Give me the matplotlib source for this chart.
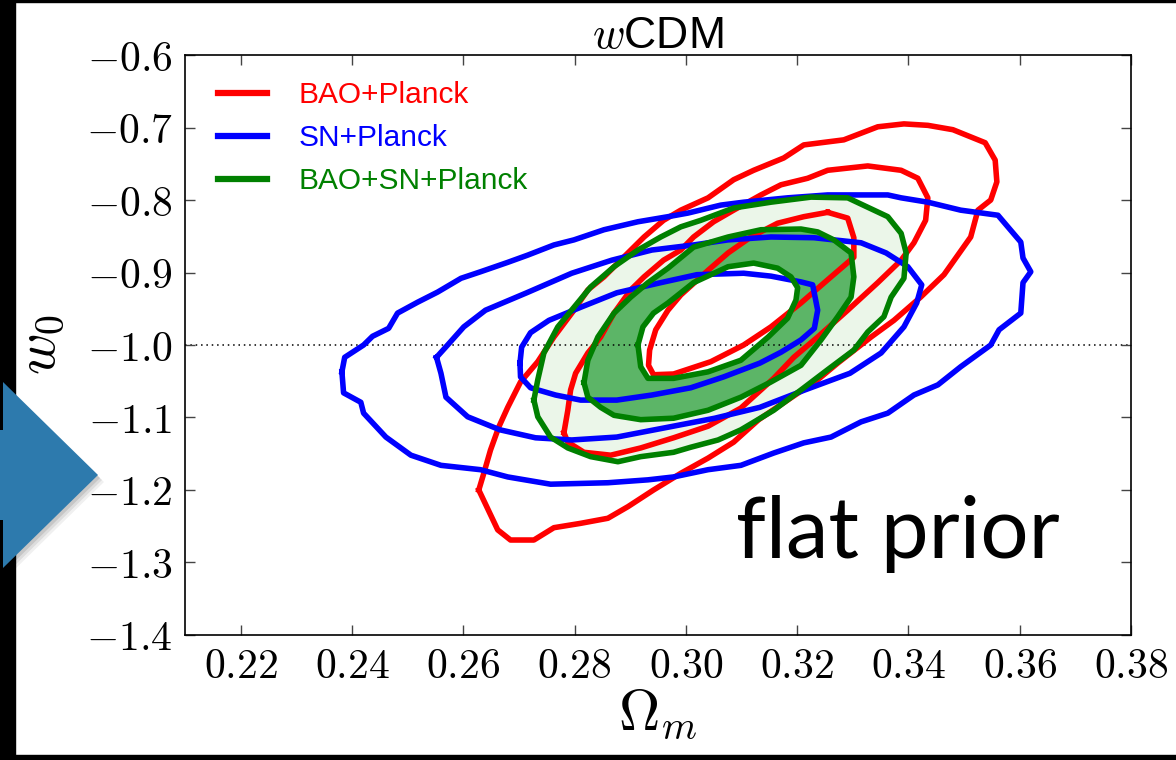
import matplotlib
matplotlib.use('Agg')
import numpy as np
import matplotlib.pyplot as plt
from matplotlib.patches import Polygon, Rectangle
from matplotlib.lines import Line2D

plt.rcParams['font.family'] = ['Liberation Sans', 'DejaVu Sans']
plt.rcParams['mathtext.fontset'] = 'cm'

# ---- contour vertices (Omega_m, w0), outer -> inner ----
bao_outer_om = [0.2628, 0.2637, 0.2649, 0.2664, 0.2680, 0.2703, 0.2734, 0.2763, 0.2799, 0.2824,
                0.2853, 0.2896, 0.2925, 0.2960, 0.2991, 0.3040, 0.3086, 0.3122, 0.3176, 0.3212,
                0.3284, 0.3345, 0.3392, 0.3435, 0.3480, 0.3538, 0.3556, 0.3559, 0.3548, 0.3525,
                0.3512, 0.3464, 0.3422, 0.3374, 0.3333, 0.3273, 0.3237, 0.3183, 0.3131, 0.3086,
                0.3040, 0.2991, 0.2942, 0.2896, 0.2860, 0.2811, 0.2763, 0.2727, 0.2685, 0.2662]
bao_outer_w0 = [-1.200, -1.177, -1.145, -1.113, -1.086, -1.051, -1.023, -0.989, -0.952, -0.924,
                -0.906, -0.873, -0.851, -0.828, -0.814, -0.797, -0.772, -0.759, -0.742, -0.724,
                -0.717, -0.699, -0.695, -0.697, -0.703, -0.721, -0.745, -0.775, -0.800, -0.814,
                -0.851, -0.903, -0.934, -0.966, -0.989, -1.025, -1.048, -1.076, -1.103, -1.134,
                -1.156, -1.177, -1.200, -1.223, -1.239, -1.246, -1.252, -1.269, -1.269, -1.255]

bao_mid_om = [0.2781, 0.2788, 0.2793, 0.2802, 0.2824, 0.2847, 0.2871, 0.2901, 0.2925, 0.2960,
              0.2991, 0.3014, 0.3050, 0.3086, 0.3135, 0.3171, 0.3219, 0.3255, 0.3327, 0.3387,
              0.3417, 0.3435, 0.3431, 0.3410, 0.3387, 0.3345, 0.3291, 0.3237, 0.3194, 0.3158,
              0.3099, 0.3040, 0.2978, 0.2919, 0.2865, 0.2817, 0.2788]
bao_mid_w0 = [-1.121, -1.090, -1.062, -1.039, -1.011, -0.989, -0.956, -0.924, -0.906, -0.883,
              -0.869, -0.851, -0.830, -0.814, -0.793, -0.779, -0.770, -0.759, -0.753, -0.759,
              -0.770, -0.797, -0.828, -0.859, -0.883, -0.914, -0.952, -0.989, -1.017, -1.046,
              -1.087, -1.112, -1.128, -1.142, -1.152, -1.148, -1.134]

bao_in_om = [0.3255, 0.3291, 0.3302, 0.3302, 0.3255, 0.3207, 0.3153, 0.3104, 0.3045, 0.2978,
             0.2942, 0.2933, 0.2935, 0.2946, 0.2968, 0.2991, 0.3040, 0.3076, 0.3117, 0.3165, 0.3212]
bao_in_w0 = [-0.817, -0.825, -0.852, -0.879, -0.910, -0.942, -0.975, -1.000, -1.023, -1.040,
             -1.041, -1.028, -1.007, -0.979, -0.952, -0.931, -0.897, -0.873, -0.851, -0.832, -0.823]

sn_outer_om = [0.2382, 0.2387, 0.2421, 0.2437, 0.2466, 0.2482, 0.2518, 0.2554, 0.2596, 0.2631,
               0.2680, 0.2716, 0.2763, 0.2799, 0.2853, 0.2914, 0.2968, 0.3004, 0.3063, 0.3104,
               0.3183, 0.3255, 0.3363, 0.3387, 0.3435, 0.3494, 0.3561, 0.3602, 0.3606, 0.3620,
               0.3606, 0.3602, 0.3563, 0.3548, 0.3494, 0.3453, 0.3410, 0.3363, 0.3315, 0.3261,
               0.3212, 0.3158, 0.3099, 0.3040, 0.2978, 0.2932, 0.2860, 0.2757, 0.2680, 0.2631,
               0.2560, 0.2506, 0.2461, 0.2421, 0.2416, 0.2385]
sn_outer_w0 = [-1.037, -1.017, -1.000, -0.988, -0.977, -0.956, -0.941, -0.927, -0.908, -0.899,
               -0.886, -0.876, -0.862, -0.855, -0.841, -0.830, -0.823, -0.818, -0.807, -0.803,
               -0.797, -0.793, -0.793, -0.797, -0.803, -0.814, -0.821, -0.858, -0.880, -0.899,
               -0.914, -0.956, -0.979, -1.000, -1.030, -1.055, -1.069, -1.094, -1.106, -1.127,
               -1.135, -1.149, -1.166, -1.172, -1.182, -1.186, -1.190, -1.192, -1.182, -1.172,
               -1.166, -1.152, -1.127, -1.094, -1.079, -1.066]

sn_mid_om = [0.2552, 0.2560, 0.2569, 0.2608, 0.2666, 0.2730, 0.2795, 0.2876, 0.2964, 0.3052,
             0.3133, 0.3214, 0.3295, 0.3351, 0.3392, 0.3415, 0.3424, 0.3399, 0.3360, 0.3315,
             0.3230, 0.3153, 0.3076, 0.3014, 0.2939, 0.2867, 0.2795, 0.2714, 0.2640, 0.2601, 0.2572]
sn_mid_w0 = [-1.017, -1.039, -1.072, -1.099, -1.117, -1.128, -1.131, -1.127, -1.114, -1.101,
             -1.086, -1.062, -1.039, -1.011, -0.975, -0.942, -0.917, -0.892, -0.873, -0.859,
             -0.852, -0.851, -0.855, -0.862, -0.869, -0.883, -0.901, -0.928, -0.952, -0.975, -1.000]

sn_in_om = [0.2702, 0.2703, 0.2721, 0.2766, 0.2811, 0.2876, 0.2939, 0.3009, 0.3068, 0.3133,
            0.3171, 0.3207, 0.3231, 0.3237, 0.3228, 0.3207, 0.3153, 0.3104, 0.3020, 0.2955,
            0.2876, 0.2811, 0.2754, 0.2721, 0.2705]
sn_in_w0 = [-1.025, -1.044, -1.059, -1.069, -1.076, -1.076, -1.069, -1.059, -1.044, -1.025,
            -1.010, -0.993, -0.977, -0.952, -0.917, -0.913, -0.905, -0.901, -0.903, -0.914,
            -0.928, -0.948, -0.966, -0.983, -1.003]

all_outer_om = [0.2727, 0.2734, 0.2745, 0.2770, 0.2799, 0.2829, 0.2871, 0.2914, 0.2955, 0.2991,
                0.3027, 0.3086, 0.3153, 0.3225, 0.3291, 0.3327, 0.3363, 0.3387, 0.3396, 0.3392,
                0.3369, 0.3356, 0.3327, 0.3302, 0.3255, 0.3207, 0.3158, 0.3099, 0.3058, 0.3009,
                0.2978, 0.2919, 0.2878, 0.2829, 0.2788, 0.2757, 0.2734]
all_outer_w0 = [-1.076, -1.048, -1.011, -0.975, -0.948, -0.920, -0.892, -0.869, -0.851, -0.837,
                -0.828, -0.811, -0.803, -0.796, -0.797, -0.810, -0.823, -0.846, -0.873, -0.908,
                -0.934, -0.961, -0.982, -1.007, -1.034, -1.062, -1.090, -1.117, -1.131, -1.141,
                -1.148, -1.154, -1.161, -1.154, -1.142, -1.127, -1.099]

all_mid_om = [0.2817, 0.2824, 0.2847, 0.2871, 0.2919, 0.2978, 0.3040, 0.3099, 0.3153, 0.3207,
              0.3243, 0.3273, 0.3297, 0.3302, 0.3297, 0.3266, 0.3237, 0.3207, 0.3135, 0.3076,
              0.3014, 0.2968, 0.2932, 0.2901, 0.2871, 0.2842, 0.2824]
all_mid_w0 = [-1.052, -1.072, -1.086, -1.097, -1.103, -1.101, -1.090, -1.072, -1.051, -1.028,
              -0.993, -0.961, -0.934, -0.906, -0.873, -0.855, -0.844, -0.840, -0.841, -0.851,
              -0.865, -0.894, -0.914, -0.934, -0.956, -0.989, -1.021]

all_in_om = [0.2914, 0.2919, 0.2932, 0.2978, 0.3040, 0.3099, 0.3148, 0.3183, 0.3198, 0.3201,
             0.3189, 0.3165, 0.3122, 0.3076, 0.3014, 0.2968, 0.2942, 0.2923]
all_in_w0 = [-1.000, -1.030, -1.046, -1.046, -1.037, -1.021, -0.989, -0.963, -0.938, -0.921,
             -0.906, -0.894, -0.887, -0.892, -0.914, -0.942, -0.956, -0.975]

labels = ['BAO+Planck', 'SN+Planck', 'BAO+SN+Planck']
xticks = [0.22, 0.24, 0.26, 0.28, 0.30, 0.32, 0.34, 0.36, 0.38]
yticks = [-1.4, -1.3, -1.2, -1.1, -1.0, -0.9, -0.8, -0.7, -0.6]
w_lcdm = -1.0


def closed(xs, ys):
    return np.append(xs, xs[0]), np.append(ys, ys[0])


fig = plt.figure(figsize=(11.76, 7.6), dpi=100)
fig.patch.set_facecolor('white')
ax = fig.add_axes([0.1573, 0.1645, 0.8044, 0.7631])

# filled bands of the combined constraint
ax.fill(all_outer_om, all_outer_w0, color='#ebf6e9', lw=0, zorder=1)
ax.fill(all_mid_om, all_mid_w0, color='#5cb567', lw=0, zorder=1.1)
ax.fill(all_in_om, all_in_w0, color='white', lw=0, zorder=1.2)

ax.axhline(w_lcdm, color='k', ls=(0, (1, 2.5)), lw=1.1, zorder=1.5)

lw = 4.0
for xs, ys in [(bao_outer_om, bao_outer_w0), (bao_mid_om, bao_mid_w0), (bao_in_om, bao_in_w0)]:
    ax.plot(*closed(xs, ys), color='#ff0000', lw=lw, solid_joinstyle='round', zorder=2)
for xs, ys in [(sn_outer_om, sn_outer_w0), (sn_mid_om, sn_mid_w0), (sn_in_om, sn_in_w0)]:
    ax.plot(*closed(xs, ys), color='#0000ff', lw=lw, solid_joinstyle='round', zorder=2.1)
for xs, ys in [(all_outer_om, all_outer_w0), (all_mid_om, all_mid_w0), (all_in_om, all_in_w0)]:
    ax.plot(*closed(xs, ys), color='#008000', lw=lw, solid_joinstyle='round', zorder=2.2)

ax.set_xlim(0.21, 0.38)
ax.set_ylim(-1.4, -0.6)
ax.set_xticks(xticks)
ax.set_xticklabels([r'$%.2f$' % v for v in xticks])
ax.set_yticks(yticks)
ax.set_yticklabels([r'$%.1f$' % v for v in yticks])
ax.tick_params(direction='in', length=7, width=1, colors='#444444', labelcolor='k',
               labelsize=30, pad=9, top=True, right=True)
for sp in ax.spines.values():
    sp.set_linewidth(1.2)

ax.set_xlabel(r'$\Omega_m$', fontsize=41, labelpad=0)
ax.set_ylabel(r'$w_0$', fontsize=41, labelpad=14)
ax.set_title(r'$w$CDM', fontsize=32, pad=5)

handles = [Line2D([], [], color=c, lw=4.5) for c in ['#ff0000', '#0000ff', '#008000']]
ax.legend(handles, labels, loc='upper left', bbox_to_anchor=(0.035, 0.955), frameon=False,
          fontsize=21.5, handlelength=1.65, handletextpad=1.05, labelspacing=0.5,
          borderpad=0, borderaxespad=0, labelcolor='linecolor')

fig.text(0.7636, 0.2658, 'flat prior', fontsize=61.5, family=['Lato', 'DejaVu Sans'],
         ha='center', va='baseline', color='k')

# slide frame and arrow
fig.add_artist(Rectangle((0, 0), 15 / 1176, 1, transform=fig.transFigure, color='k', zorder=5))
fig.add_artist(Rectangle((0, 1 - 2 / 760), 1, 2 / 760, transform=fig.transFigure, color='k', zorder=5))
fig.add_artist(Rectangle((0, 0), 1, 5 / 760, transform=fig.transFigure, color='k', zorder=5))

arrow = np.array([[-10, 430], [3, 430], [3, 382], [98, 475], [3, 568], [3, 520], [-10, 520]], float)
for k, a in enumerate([0.10, 0.08, 0.06]):
    sh = arrow + [2 + 2 * k, 3 + 2 * k]
    fig.add_artist(Polygon(np.c_[sh[:, 0] / 1176, 1 - sh[:, 1] / 760], closed=True,
                           transform=fig.transFigure, color='k', alpha=a, lw=0, zorder=5.5))
fig.add_artist(Polygon(np.c_[arrow[:, 0] / 1176, 1 - arrow[:, 1] / 760], closed=True,
                       transform=fig.transFigure, color='#2d7aad', lw=0, zorder=6))

fig.savefig('out.png', dpi=100)
